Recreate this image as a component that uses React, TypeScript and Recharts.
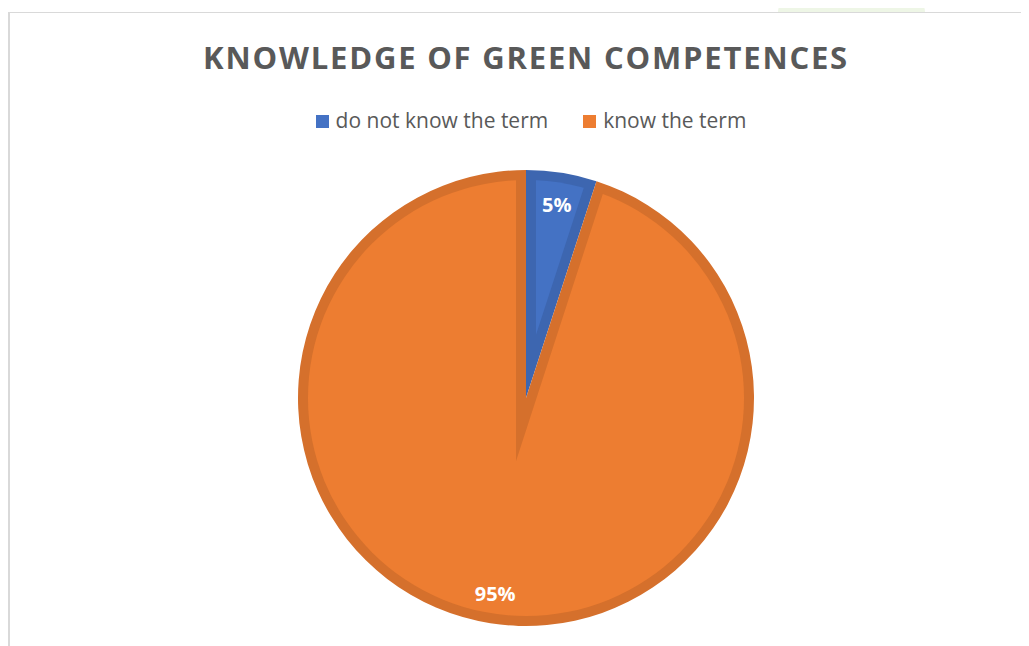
import React from 'react';
import { PieChart, Pie, Cell, Legend } from 'recharts';

// answers from the survey, in percent
const categories = ['do not know the term', 'know the term'];
const shares = [5, 95];
const colors = ['#4472C4', '#ED7D31'];
const edgeColors = ['#3D66B0', '#D5702C'];

const data = categories.map((name, i) => ({ name, value: shares[i] }));

const RADIAN = Math.PI / 180;
const FONT = '"Open Sans", "Noto Sans", sans-serif';
const TEXT_COLOR = '#595959';

const LEGEND_H = 28;
const CX = 518;
const CY = 386 - LEGEND_H;
const R = 228;
const EDGE = 10; // width of the darker inner rim

// the lighter inner part of each slice is the slice inset by EDGE:
// a wedge with its apex moved along the bisector, cut by a smaller circle
const total = shares.reduce((a, b) => a + b, 0);
const insetCenters = shares.map((v, i) => {
  const before = shares.slice(0, i).reduce((a, b) => a + b, 0);
  const mid = 90 - (360 * (before + v / 2)) / total;
  const half = (180 * v) / total;
  const s = EDGE / Math.sin(half * RADIAN);
  return { cx: CX + s * Math.cos(mid * RADIAN), cy: CY - s * Math.sin(mid * RADIAN) };
});

const renderLabel = (props: any) => {
  const { cx, cy, midAngle, outerRadius, percent } = props;
  const r = outerRadius - 31;
  const x = cx + r * Math.cos(-midAngle * RADIAN);
  const y = cy + r * Math.sin(-midAngle * RADIAN) + 1;
  return (
    <text
      x={x}
      y={y}
      fill="#fff"
      textAnchor="middle"
      dominantBaseline="central"
      fontFamily={FONT}
      fontWeight={700}
      fontSize={20}
    >
      {`${Math.round(percent * 100)}%`}
    </text>
  );
};

const renderLegend = () => (
  <div
    style={{
      display: 'flex',
      justifyContent: 'center',
      height: LEGEND_H,
      lineHeight: `${LEGEND_H}px`,
      paddingLeft: 10,
      fontFamily: FONT,
      fontSize: 21,
      color: TEXT_COLOR,
    }}
  >
    {categories.map((name, i) => (
      <div key={name} style={{ display: 'flex', alignItems: 'center', marginRight: i < categories.length - 1 ? 35 : 0 }}>
        <span style={{ display: 'inline-block', width: 13, height: 13, background: colors[i], marginRight: 7, marginTop: 2 }} />
        <span>{name}</span>
      </div>
    ))}
  </div>
);

export default function App() {
  return (
    <div style={{ paddingTop: 4 }}>
      <div style={{ position: 'relative', width: 1021, height: 634 }}>
        <svg width={0} height={0} style={{ position: 'absolute' }}>
          <defs>
            <clipPath id="innerClip">
              <circle cx={CX} cy={CY + LEGEND_H} r={R - EDGE} />
            </clipPath>
          </defs>
        </svg>
        <div style={{ position: 'absolute', left: 770, top: -12, width: 147, height: 12, background: '#EEF6E6', borderRadius: '30px 30px 0 0' }} />
        <div
          style={{
            position: 'absolute',
            left: 0,
            top: 0,
            right: -10,
            bottom: -10,
            borderTop: '1px solid #D9D9D9',
            borderLeft: '2px solid #D9D9D9',
            background: '#fff',
          }}
        />
        <div
          style={{
            position: 'absolute',
            left: 0,
            width: 1036,
            top: 24,
            textAlign: 'center',
            fontFamily: FONT,
            fontWeight: 700,
            fontSize: 31,
            letterSpacing: 1.8,
            color: TEXT_COLOR,
          }}
        >
          KNOWLEDGE OF GREEN COMPETENCES
        </div>
        <div style={{ position: 'absolute', left: 0, top: 0 }}>
          <PieChart width={1021} height={634} margin={{ top: 0, right: 0, bottom: 0, left: 0 }}>
            <Legend verticalAlign="top" content={renderLegend} wrapperStyle={{ top: 94, left: 0, width: 1036 }} />
            {/* darker rim */}
            <Pie
              data={data}
              dataKey="value"
              nameKey="name"
              cx={CX}
              cy={CY}
              outerRadius={R}
              startAngle={90}
              endAngle={-270}
              stroke="none"
              isAnimationActive={false}
            >
              {data.map((d, i) => (
                <Cell key={d.name} fill={edgeColors[i]} />
              ))}
            </Pie>
            {/* lighter inset of each slice */}
            {data.map((d, i) => (
              <Pie
                key={`inner-${d.name}`}
                data={data}
                dataKey="value"
                nameKey="name"
                cx={insetCenters[i].cx}
                cy={insetCenters[i].cy}
                outerRadius={R + 80}
                startAngle={90}
                endAngle={-270}
                stroke="none"
                legendType="none"
                isAnimationActive={false}
              >
                {data.map((e, j) => (
                  <Cell key={e.name} fill={j === i ? colors[j] : 'none'} clipPath="url(#innerClip)" />
                ))}
              </Pie>
            ))}
            {/* percentage labels */}
            <Pie
              data={data}
              dataKey="value"
              nameKey="name"
              cx={CX}
              cy={CY}
              outerRadius={R}
              startAngle={90}
              endAngle={-270}
              stroke="none"
              fill="none"
              legendType="none"
              label={renderLabel}
              labelLine={false}
              isAnimationActive={false}
            >
              {data.map((d) => (
                <Cell key={d.name} fill="none" />
              ))}
            </Pie>
          </PieChart>
        </div>
      </div>
    </div>
  );
}
